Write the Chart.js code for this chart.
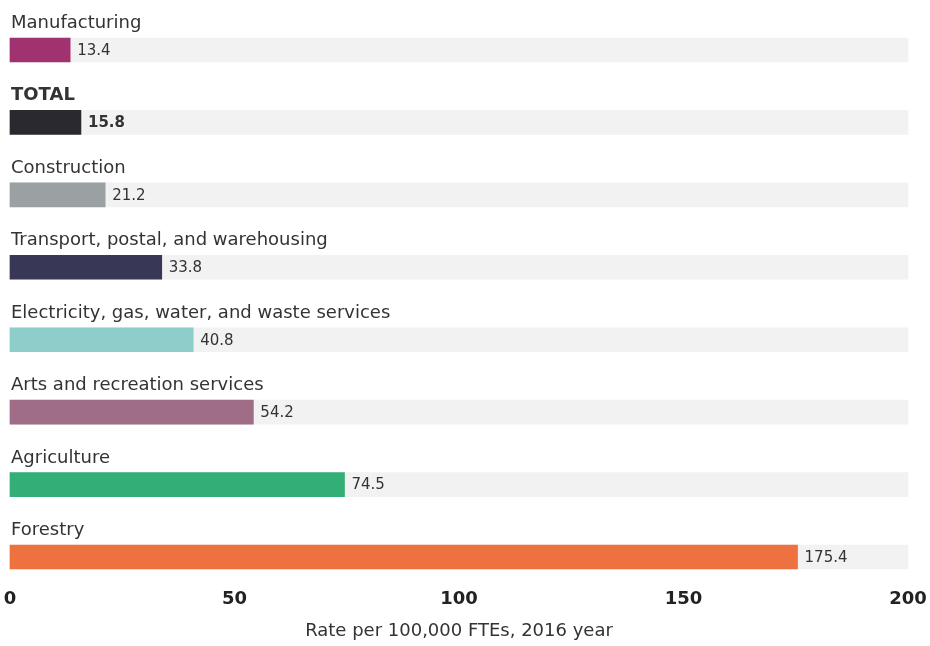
<!DOCTYPE html>
<html>
<head>
<meta charset="utf-8">
<script src="https://cdn.jsdelivr.net/npm/chart.js@4.4.1/dist/chart.umd.min.js"></script>
<style>
  html, body { margin: 0; padding: 0; background: #fff; }
  #wrap { width: 930px; height: 646px; }
</style>
</head>
<body>
<div id="wrap"><canvas id="rateChart" width="930" height="646"></canvas></div>
<script>
const industries = [
    'Manufacturing',
    'TOTAL',
    'Construction',
    'Transport, postal, and warehousing',
    'Electricity, gas, water, and waste services',
    'Arts and recreation services',
    'Agriculture',
    'Forestry'
];
const rates = [13.4, 15.8, 21.2, 33.8, 40.8, 54.2, 74.5, 175.4];
const barColors = ['#a0336f', '#29292f', '#9ba1a3', '#383856', '#8dcdca', '#a06d87', '#34ae77', '#ee723f'];
const trackMax = industries.map(() => 200);
const xTicks = [0, 50, 100, 150, 200];

const FONT = '"DejaVu Sans", sans-serif';

// category name above each bar, value just past its end
const barLabels = {
    id: 'barLabels',
    afterDatasetsDraw(chart) {
        const { ctx, scales: { x, y } } = chart;
        ctx.save();
        industries.forEach((name, i) => {
            const cy = y.getPixelForValue(i);
            const bold = name === 'TOTAL';
            ctx.fillStyle = '#333';
            ctx.textBaseline = 'alphabetic';
            ctx.textAlign = 'left';
            ctx.font = (bold ? 'bold ' : '') + '18px ' + FONT;
            ctx.fillText(name, 11, cy - 22);

            ctx.textBaseline = 'middle';
            ctx.font = (bold ? 'bold ' : '') + '15px ' + FONT;
            ctx.fillText(rates[i].toFixed(1), x.getPixelForValue(rates[i]) + 7, cy + 1);
        });
        ctx.restore();
    }
};

new Chart(document.getElementById('rateChart'), {
    type: 'bar',
    data: {
        labels: industries,
        datasets: [{
            data: rates,
            backgroundColor: barColors,
            barThickness: 24,
            grouped: false,
            order: 1,
            clip: false
        }, {
            data: trackMax,
            backgroundColor: '#f1f2f1',
            barThickness: 24,
            grouped: false,
            order: 2,
            clip: false
        }]
    },
    options: {
        indexAxis: 'y',
        responsive: false,
        animation: false,
        layout: { padding: { top: 50, left: 10, right: 22, bottom: 2 } },
        plugins: {
            legend: { display: false },
            tooltip: { enabled: false }
        },
        scales: {
            y: {
                display: false,
                offset: false
            },
            x: {
                min: 0,
                max: 200,
                afterBuildTicks: axis => { axis.ticks = xTicks.map(v => ({ value: v })); },
                // tick padding would otherwise widen the side gutters too
                afterFit: axis => {
                    axis.paddingLeft = 0;
                    axis.paddingRight = 0;
                    axis.height = 87;
                },
                grid: { display: false, drawTicks: false },
                border: { display: false },
                ticks: {
                    padding: 32,
                    color: '#222',
                    font: { family: FONT, size: 18, weight: 'bold' }
                },
                title: {
                    display: true,
                    text: 'Rate per 100,000 FTEs, 2016 year',
                    color: '#333',
                    padding: { top: 10, bottom: 2 },
                    font: { family: FONT, size: 18 }
                }
            }
        }
    },
    plugins: [barLabels]
});
</script>
</body>
</html>
